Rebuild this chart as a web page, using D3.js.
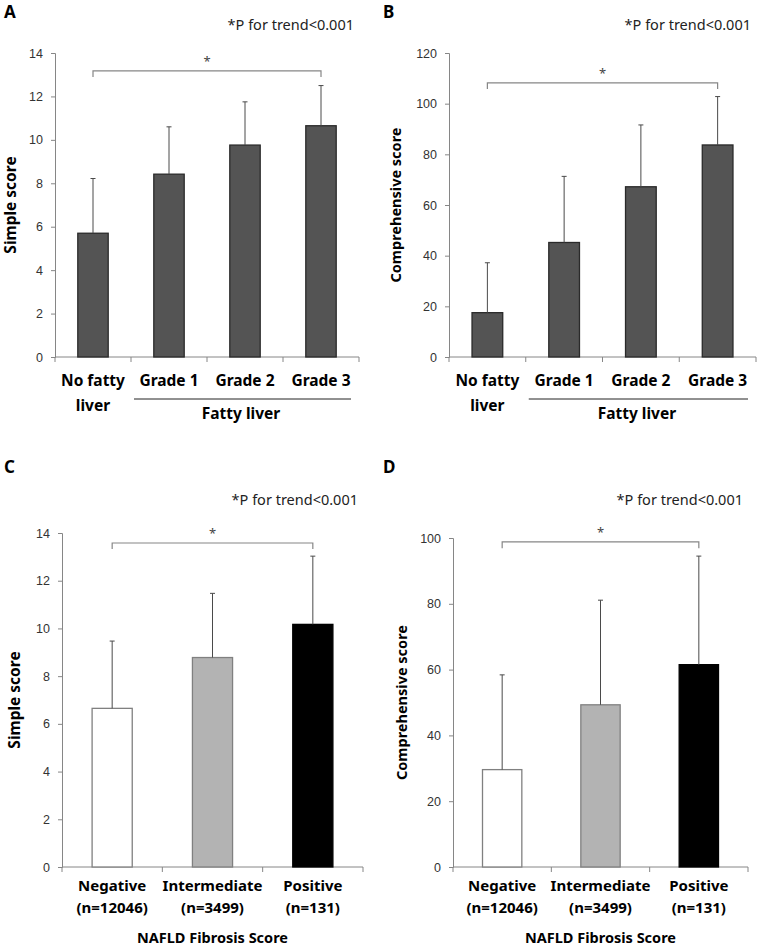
<!DOCTYPE html>
<html>
<head>
<meta charset="utf-8">
<script src="https://cdn.jsdelivr.net/npm/d3@7"></script>
<style>
  body { margin: 0; background: #fff; }
  svg { display: block; font-family: "Noto Sans", "Open Sans", sans-serif; }
</style>
</head>
<body>
<svg width="758" height="947"></svg>
<script>
// datos
const liverCats = ["No fatty liver", "Grade 1", "Grade 2", "Grade 3"];
const simpleLiver = [5.7, 8.42, 9.76, 10.65];
const simpleLiverErr = [8.22, 10.6, 11.75, 12.5];
const compLiver = [17.5, 45.2, 67.2, 83.7];
const compLiverErr = [37.2, 71.3, 91.6, 102.8];

const nfsCats = ["Negative", "Intermediate", "Positive"];
const nfsN = ["(n=12046)", "(n=3499)", "(n=131)"];
const simpleNfs = [6.65, 8.78, 10.17];
const simpleNfsErr = [9.47, 11.47, 13.03];
const compNfs = [29.6, 49.3, 61.5];
const compNfsErr = [58.4, 81.1, 94.5];

const ticksSimple = [0, 2, 4, 6, 8, 10, 12, 14];
const ticksCompA = [0, 20, 40, 60, 80, 100, 120];
const ticksCompB = [0, 20, 40, 60, 80, 100];

const svg = d3.select("svg");
const gris = "#868686";

function dibujarPanel(p) {
    const g = svg.append("g");
    const x = d3.scaleBand().domain(p.cats).range([p.x0, p.x1]).paddingInner(0.6).paddingOuter(0.3);
    const y = d3.scaleLinear().domain([0, p.max]).range([p.y0, p.y1]);

    // letra del panel y nota
    g.append("text").attr("x", p.lx).attr("y", p.ly)
        .style("font-size", "17px").style("font-weight", "bold").text(p.letra);
    g.append("text").attr("x", p.x1 - 5).attr("y", p.py).attr("text-anchor", "end")
        .style("font-size", "14.5px").style("fill", "#222").text("*P for trend<0.001");

    // eje y
    const ay = g.append("g").attr("transform", `translate(${p.x0},0)`)
        .call(d3.axisLeft(y).tickValues(p.ticks).tickSize(4).tickPadding(8));
    ay.select(".domain").attr("stroke", gris);
    ay.selectAll(".tick line").attr("stroke", gris);
    ay.selectAll(".tick text").style("font-size", "12.5px").style("fill", "#333").style("font-family", "inherit");

    // eje x con marcas entre categorías
    g.append("line").attr("x1", p.x0).attr("x2", p.x1).attr("y1", p.y0).attr("y2", p.y0).attr("stroke", gris);
    const paso = (p.x1 - p.x0) / p.cats.length;
    g.selectAll("line.tickx").data(d3.range(p.cats.length + 1)).enter().append("line")
        .attr("x1", d => p.x0 + d * paso).attr("x2", d => p.x0 + d * paso)
        .attr("y1", p.y0).attr("y2", p.y0 + 5).attr("stroke", gris);

    // barras
    g.selectAll("rect.bar").data(p.vals).enter().append("rect")
        .attr("x", (d, i) => x(p.cats[i]))
        .attr("y", d => y(d))
        .attr("width", x.bandwidth())
        .attr("height", d => p.y0 - y(d))
        .attr("fill", (d, i) => p.fill[i])
        .attr("stroke", (d, i) => p.stroke[i])
        .attr("stroke-width", 1.3);

    // barras de error (solo hacia arriba)
    const cx = i => x(p.cats[i]) + x.bandwidth() / 2;
    g.selectAll("line.err").data(p.err).enter().append("line")
        .attr("x1", (d, i) => cx(i)).attr("x2", (d, i) => cx(i))
        .attr("y1", (d, i) => y(p.vals[i])).attr("y2", d => y(d))
        .attr("stroke", "#4a4a4a").attr("stroke-width", 1);
    g.selectAll("line.cap").data(p.err).enter().append("line")
        .attr("x1", (d, i) => cx(i) - 2.5).attr("x2", (d, i) => cx(i) + 2.5)
        .attr("y1", d => y(d)).attr("y2", d => y(d))
        .attr("stroke", "#4a4a4a").attr("stroke-width", 1);

    // corchete de significancia
    const b0 = cx(0), b1 = cx(p.cats.length - 1);
    g.append("path")
        .attr("d", `M${b0},${y(p.brEnd)}V${y(p.br)}H${b1}V${y(p.brEnd)}`)
        .attr("fill", "none").attr("stroke", gris).attr("stroke-width", 1.2);
    g.append("text").attr("x", (b0 + b1) / 2).attr("y", y(p.br) - 5).attr("text-anchor", "middle")
        .style("font-size", "13px").style("fill", "#444").text("*");

    // título eje y
    g.append("text")
        .attr("transform", `translate(${p.tx},${(p.y0 + p.y1) / 2}) rotate(-90)`)
        .attr("text-anchor", "middle").attr("dy", "0.35em")
        .style("font-size", p.tfs).style("font-weight", "bold").text(p.titulo);

    return { g, x, y, cx, paso };
}

function etiquetasHigado(r, p) {
    const lab = ["No fatty", "Grade 1", "Grade 2", "Grade 3"];
    r.g.selectAll("text.xl").data(lab).enter().append("text")
        .attr("x", (d, i) => r.cx(i)).attr("y", p.y0 + 29).attr("text-anchor", "middle")
        .style("font-size", "15.5px").style("font-weight", "bold").text(d => d);
    r.g.append("text").attr("x", r.cx(0)).attr("y", p.y0 + 54).attr("text-anchor", "middle")
        .style("font-size", "15.5px").style("font-weight", "bold").text("liver");
    r.g.append("line").attr("x1", p.x0 + r.paso + 3).attr("x2", p.x1 - 8)
        .attr("y1", p.y0 + 42).attr("y2", p.y0 + 42).attr("stroke", "#222");
    r.g.append("text").attr("x", (p.x0 + r.paso + p.x1) / 2 - 4).attr("y", p.y0 + 62).attr("text-anchor", "middle")
        .style("font-size", "15.5px").style("font-weight", "bold").text("Fatty liver");
}

function etiquetasNfs(r, p) {
    r.g.selectAll("text.xl").data(nfsCats).enter().append("text")
        .attr("x", (d, i) => r.cx(i)).attr("y", p.y0 + 24).attr("text-anchor", "middle")
        .style("font-size", "15px").style("font-weight", "bold").text(d => d);
    r.g.selectAll("text.xn").data(nfsN).enter().append("text")
        .attr("x", (d, i) => r.cx(i)).attr("y", p.y0 + 46).attr("text-anchor", "middle")
        .style("font-size", "15px").style("font-weight", "bold").text(d => d);
    r.g.append("text").attr("x", (p.x0 + p.x1) / 2).attr("y", p.y0 + 76).attr("text-anchor", "middle")
        .style("font-size", "14.5px").style("font-weight", "bold").text("NAFLD Fibrosis Score");
}

const oscuro = ["#545454", "#545454", "#545454", "#545454"];
const bordeOscuro = ["#2a2a2a", "#2a2a2a", "#2a2a2a", "#2a2a2a"];
const nfsFill = ["#ffffff", "#b3b3b3", "#000000"];
const nfsStroke = ["#808080", "#808080", "#000000"];

const pA = { letra: "A", lx: 4, ly: 18, py: 30, x0: 55, x1: 359, y0: 357, y1: 53, max: 14,
    cats: liverCats, vals: simpleLiver, err: simpleLiverErr, ticks: ticksSimple,
    fill: oscuro, stroke: bordeOscuro, br: 13.18, brEnd: 12.9, tx: 11, tfs: "15.5px", titulo: "Simple score" };
etiquetasHigado(dibujarPanel(pA), pA);

const pB = { letra: "B", lx: 383, ly: 18, py: 30, x0: 449, x1: 756, y0: 357, y1: 53, max: 120,
    cats: liverCats, vals: compLiver, err: compLiverErr, ticks: ticksCompA,
    fill: oscuro, stroke: bordeOscuro, br: 108.2, brEnd: 105.8, tx: 396, tfs: "14.5px", titulo: "Comprehensive score" };
etiquetasHigado(dibujarPanel(pB), pB);

const pC = { letra: "C", lx: 4, ly: 473, py: 505, x0: 62, x1: 363, y0: 867, y1: 533, max: 14,
    cats: nfsCats, vals: simpleNfs, err: simpleNfsErr, ticks: ticksSimple,
    fill: nfsFill, stroke: nfsStroke, br: 13.58, brEnd: 13.33, tx: 15, tfs: "15.5px", titulo: "Simple score" };
etiquetasNfs(dibujarPanel(pC), pC);

const pD = { letra: "D", lx: 383, ly: 473, py: 505, x0: 453, x1: 748, y0: 867, y1: 538, max: 100,
    cats: nfsCats, vals: compNfs, err: compNfsErr, ticks: ticksCompB,
    fill: nfsFill, stroke: nfsStroke, br: 98.8, brEnd: 96.9, tx: 402, tfs: "14.5px", titulo: "Comprehensive score" };
etiquetasNfs(dibujarPanel(pD), pD);
</script>
</body>
</html>
